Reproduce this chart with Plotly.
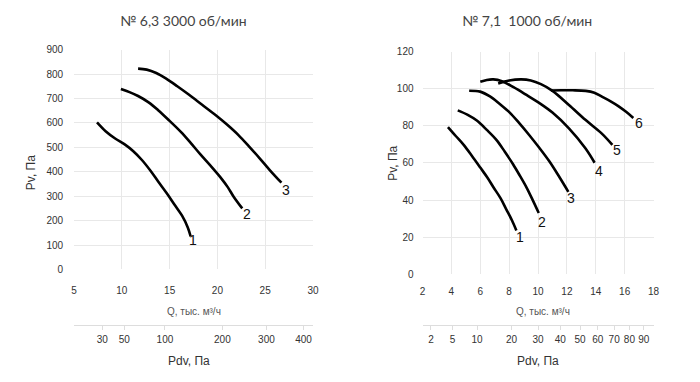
import numpy as np
import plotly.graph_objects as go

# ---------------- data ----------------
# Left chart: No 6,3 3000 rpm
left_title = "№ 6,3 3000 об/мин"
l_q1 = [7.4, 8.3, 9.3, 10.3, 11.2, 12.1, 13.0, 13.8, 14.7, 15.5, 16.3, 16.9, 17.2]
l_p1 = [602, 566, 536, 512, 484, 448, 404, 360, 312, 266, 220, 172, 135]
l_q2 = [9.9, 10.8, 11.7, 12.8, 13.8, 15.0, 16.2, 17.2, 18.2, 19.3, 20.3, 21.1, 21.7, 22.6]
l_p2 = [739, 726, 710, 684, 652, 608, 562, 518, 472, 424, 378, 336, 298, 250]
l_q3 = [11.7, 12.6, 13.6, 14.6, 15.8, 17.0, 18.4, 19.8, 21.0, 22.2, 23.3, 24.4, 25.5, 26.7]
l_p3 = [822, 818, 804, 782, 750, 716, 674, 632, 593, 550, 504, 456, 406, 355]
left_curves = [(l_q1, l_p1), (l_q2, l_p2), (l_q3, l_p3)]
left_labels = ["1", "2", "3"]
left_label_q = [17.4, 23.1, 27.2]
left_label_p = [120, 226, 325]
left_pdv_ticks = [30, 50, 100, 200, 300, 400]
left_pdv_coef = 0.475  # Pdv = coef * Q^2

# Right chart: No 7,1 1000 rpm
right_title = "№ 7,1  1000 об/мин"
r_q1 = [3.76, 4.3, 4.85, 5.4, 6.0, 6.5, 6.9, 7.4, 7.8, 8.2, 8.5]
r_p1 = [79.3, 74.5, 69.7, 64, 57.5, 52, 47, 41, 35, 29, 23.6]
r_q2 = [4.44, 5.1, 5.76, 6.45, 7.13, 7.7, 8.27, 8.75, 9.18, 9.6, 10.05]
r_p2 = [88.3, 86, 82.8, 77.8, 72.3, 66, 59.3, 53, 47.1, 40.5, 33]
r_q3 = [5.23, 5.99, 6.67, 7.35, 8.04, 8.7, 9.4, 10.1, 10.77, 11.35, 11.9, 12.1]
r_p3 = [98.9, 98.4, 95.8, 91.7, 87.1, 81.4, 74.9, 68, 61, 54, 47, 44.4]
r_q4 = [6.0, 6.45, 6.9, 7.5, 8.3, 9.2, 10.1, 11.0, 12.14, 13.28, 13.92]
r_p4 = [103.7, 104.7, 105.0, 104.0, 100.8, 96.6, 92.2, 87.1, 78.6, 67.9, 60.1]
r_q5 = [7.24, 8.0, 8.84, 9.5, 10.2, 11.0, 12.14, 13.28, 14.42, 15.15]
r_p5 = [102.8, 104.4, 105.0, 104.4, 102.4, 98.8, 91.2, 83.2, 75.8, 69.7]
r_q6 = [10.9, 11.6, 12.4, 13.3, 13.9, 14.4, 15.0, 15.56, 16.1, 16.6]
r_p6 = [99.0, 99.1, 99.1, 98.8, 97.8, 95.8, 93.3, 90.6, 87.5, 84.2]
right_curves = [(r_q1, r_p1), (r_q2, r_p2), (r_q3, r_p3), (r_q4, r_p4), (r_q5, r_p5), (r_q6, r_p6)]
right_labels = ["1", "2", "3", "4", "5", "6"]
right_label_q = [8.72, 10.27, 12.3, 14.2, 15.45, 16.97]
right_label_p = [20.1, 28.3, 41, 55.8, 66.7, 81.5]
right_pdv_ticks = [2, 5, 10, 20, 30, 40, 50, 60, 70, 80, 90]
right_pdv_coef = 0.30

# ---------------- figure ----------------
W, H = 700, 382
def px_x(v):
    return v / W
def px_y(v):
    return 1 - v / H

left_range = [5, 30]
right_range = [2, 18]

fig = go.Figure()
for q, p in left_curves:
    fig.add_trace(go.Scatter(x=q, y=p, mode="lines", xaxis="x", yaxis="y",
                             line=dict(color="black", width=2.6, shape="spline", smoothing=1.0),
                             showlegend=False, hoverinfo="skip"))
for q, p in right_curves:
    fig.add_trace(go.Scatter(x=q, y=p, mode="lines", xaxis="x2", yaxis="y2",
                             line=dict(color="black", width=2.6, shape="spline", smoothing=1.0),
                             showlegend=False, hoverinfo="skip"))
# invisible carriers so that the secondary (Pdv) axes are drawn
fig.add_trace(go.Scatter(x=left_range, y=[0, 0], mode="markers", xaxis="x3", yaxis="y",
                         marker=dict(opacity=0), showlegend=False, hoverinfo="skip"))
fig.add_trace(go.Scatter(x=right_range, y=[0, 0], mode="markers", xaxis="x4", yaxis="y2",
                         marker=dict(opacity=0), showlegend=False, hoverinfo="skip"))

tickfont = dict(family="Liberation Sans, Arial", size=10, color="#333")
grid = "#e8e8e8"

ldom_x = [px_x(72), px_x(314)]
rdom_x = [px_x(425), px_x(659)]
ldom_y = [px_y(272), px_y(45)]
rdom_y = [px_y(277), px_y(47)]

fig.update_layout(
    width=W, height=H, margin=dict(l=0, r=0, t=0, b=0),
    paper_bgcolor="white", plot_bgcolor="white",
    xaxis=dict(domain=ldom_x, range=left_range, dtick=5, showgrid=True, gridcolor=grid,
               zeroline=False, showline=False, ticks="", tickfont=tickfont,
               ticklabelstandoff=14, anchor="y"),
    yaxis=dict(domain=ldom_y, range=[0, 900], dtick=100, showgrid=True, gridcolor=grid,
               zeroline=False, showline=False, ticks="", tickfont=tickfont,
               ticklabelstandoff=10, anchor="x"),
    xaxis2=dict(domain=rdom_x, range=right_range, dtick=2, showgrid=True, gridcolor=grid,
                zeroline=False, showline=False, ticks="", tickfont=tickfont,
                ticklabelstandoff=10, anchor="y2"),
    yaxis2=dict(domain=rdom_y, range=[0, 120], dtick=20, showgrid=True, gridcolor=grid,
                zeroline=False, showline=False, ticks="", tickfont=tickfont,
                ticklabelstandoff=8, anchor="x2"),
    xaxis3=dict(overlaying="x", anchor="free", position=px_y(329), side="bottom",
                range=left_range, showgrid=False, zeroline=False, showline=True,
                linecolor="#dddddd", linewidth=1, ticks="outside", ticklen=4, tickcolor="#dddddd",
                tickmode="array",
                tickvals=[float(np.sqrt(v / left_pdv_coef)) for v in left_pdv_ticks],
                ticktext=[str(v) for v in left_pdv_ticks], tickfont=tickfont,
                ticklabelstandoff=1),
    xaxis4=dict(overlaying="x2", anchor="free", position=px_y(329), side="bottom",
                range=right_range, showgrid=False, zeroline=False, showline=True,
                linecolor="#dddddd", linewidth=1, ticks="outside", ticklen=4, tickcolor="#dddddd",
                tickmode="array",
                tickvals=[float(np.sqrt(v / right_pdv_coef)) for v in right_pdv_ticks],
                ticktext=[str(v) for v in right_pdv_ticks], tickfont=tickfont,
                ticklabelstandoff=1),
)

ann = []
titlefont = dict(family="DejaVu Sans ExtraLight, Lato, sans-serif", size=14, color="#444")
ann.append(dict(text=left_title, x=px_x(183), y=px_y(15), xref="paper", yref="paper",
                showarrow=False, font=titlefont, xanchor="center", yanchor="middle"))
ann.append(dict(text=right_title, x=px_x(531), y=px_y(15), xref="paper", yref="paper",
                showarrow=False, font=titlefont, xanchor="center", yanchor="middle"))
qfont = dict(family="Liberation Sans, Arial", size=10, color="#555")
pfont = dict(family="Liberation Sans, Arial", size=12, color="#333")
for cx in (193, 547):
    ann.append(dict(text="Q, тыс. м³/ч", x=px_x(cx), y=px_y(315), xref="paper", yref="paper",
                    showarrow=False, font=qfont, xanchor="center", yanchor="middle"))
    ann.append(dict(text="Pdv, Па", x=px_x(cx - 5), y=px_y(366), xref="paper", yref="paper",
                    showarrow=False, font=pfont, xanchor="center", yanchor="middle"))
for cx, cy in ((28, 172), (395, 162)):
    ann.append(dict(text="Pv, Па", x=px_x(cx), y=px_y(cy), xref="paper", yref="paper",
                    showarrow=False, font=pfont, textangle=-90, xanchor="center", yanchor="middle"))

lblfont = dict(family="Liberation Sans, Arial", size=14, color="#111")
for t, q, p in zip(left_labels, left_label_q, left_label_p):
    ann.append(dict(text=t, x=q, y=p, xref="x", yref="y", showarrow=False, font=lblfont))
for t, q, p in zip(right_labels, right_label_q, right_label_p):
    ann.append(dict(text=t, x=q, y=p, xref="x2", yref="y2", showarrow=False, font=lblfont))

fig.update_layout(annotations=ann)
fig.write_html("out.html", config={"displayModeBar": False},
               post_script="document.body.style.margin='0';document.body.style.padding='0';")
